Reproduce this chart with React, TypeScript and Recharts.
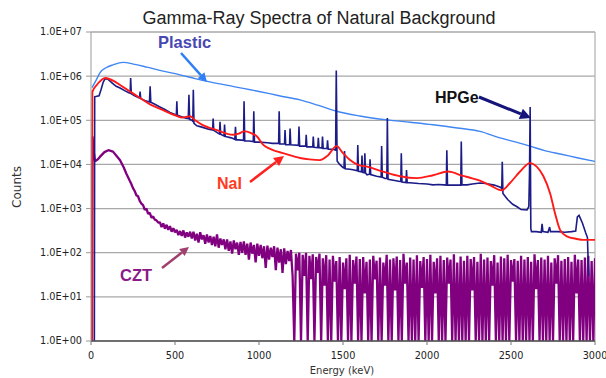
import React from 'react';
import { LineChart, Line, XAxis, YAxis, CartesianGrid, ReferenceLine } from 'recharts';

const title = 'Gamma-Ray Spectra of Natural Background';
const xTicks = [0, 500, 1000, 1500, 2000, 2500, 3000];
const yTicks = [1, 10, 100, 1000, 10000, 100000, 1000000, 10000000];
const yTickLabels = ['1.0E+00', '1.0E+01', '1.0E+02', '1.0E+03', '1.0E+04', '1.0E+05', '1.0E+06', '1.0E+07'];

// Plastic scintillator
const plasticEnergy = [6, 30, 54, 90, 131, 190, 260, 333, 430, 530, 620, 708, 850, 1000, 1120, 1244, 1350, 1462, 1600, 1762, 1900, 2036, 2180, 2315, 2435, 2530, 2613, 2700, 2800, 2900, 3000];
const plasticCounts = [5.5e5, 8.0e5, 1.2e6, 1.55e6, 1.8e6, 2.05e6, 1.85e6, 1.6e6, 1.3e6, 1.07e6, 8.8e5, 7.4e5, 5.8e5, 4.5e5, 3.6e5, 2.9e5, 2.2e5, 1.6e5, 1.25e5, 1.02e5, 9.0e4, 7.9e4, 6.7e4, 5.6e4, 4.0e4, 3.2e4, 2.6e4, 2.05e4, 1.7e4, 1.4e4, 1.17e4];

// NaI
const naiEnergy = [5, 8, 34, 64, 85, 113, 140, 173, 232, 292, 351, 429, 500, 545, 570, 590, 620, 660, 750, 845, 880, 911, 950, 988, 1024, 1060, 1100, 1143, 1244, 1300, 1363, 1410, 1462, 1500, 1542, 1590, 1643, 1738, 1839, 1940, 2036, 2125, 2214, 2256, 2315, 2380, 2444, 2494, 2554, 2613, 2653, 2693, 2733, 2762, 2792, 2832, 2892, 2929, 3000];
const naiCounts = [1, 4.4e5, 6.3e5, 8.3e5, 9.1e5, 8.5e5, 7.6e5, 6.3e5, 4.5e5, 3.2e5, 2.3e5, 1.7e5, 1.3e5, 1.15e5, 1.2e5, 1.23e5, 1.0e5, 8.0e4, 6.0e4, 4.7e4, 5.0e4, 5.6e4, 5.2e4, 4.3e4, 2.8e4, 2.3e4, 2.0e4, 1.8e4, 1.4e4, 1.3e4, 1.25e4, 1.6e4, 2.6e4, 1.8e4, 1.26e4, 9.8e3, 8.9e3, 6.9e3, 5.4e3, 4.9e3, 5.7e3, 6.9e3, 5.5e3, 5.0e3, 4.3e3, 3.3e3, 2.6e3, 3.8e3, 6.9e3, 1.07e4, 8.9e3, 5.4e3, 2.2e3, 780, 330, 235, 205, 195, 195];

// HPGe
const hpgeEnergy = [20, 22, 35, 48, 60, 72, 83, 100, 115, 130, 150, 173, 200, 225, 233, 236, 240, 260, 285, 289, 292, 296, 320, 348, 352, 356, 380, 410, 440, 470, 500, 508, 511, 514, 540, 565, 579, 583, 587, 600, 606, 609, 613, 630, 660, 700, 724, 727, 731, 760, 765, 768, 772, 792, 795, 799, 835, 856, 860, 864, 880, 908, 911, 915, 940, 966, 969, 973, 1000, 1050, 1080, 1117, 1120, 1124, 1152, 1155, 1159, 1182, 1185, 1189, 1235, 1238, 1242, 1278, 1281, 1285, 1320, 1323, 1327, 1350, 1353, 1357, 1375, 1378, 1382, 1405, 1408, 1412, 1440, 1456, 1460, 1465, 1480, 1500, 1506, 1509, 1513, 1540, 1560, 1585, 1588, 1592, 1610, 1613, 1617, 1627, 1630, 1634, 1643, 1658, 1661, 1665, 1700, 1727, 1730, 1734, 1750, 1761, 1764, 1768, 1800, 1839, 1844, 1847, 1851, 1875, 1878, 1882, 1950, 2000, 2036, 2070, 2100, 2115, 2118, 2122, 2160, 2201, 2204, 2208, 2238, 2270, 2315, 2350, 2400, 2440, 2445, 2448, 2452, 2480, 2510, 2536, 2560, 2595, 2606, 2610, 2614, 2618, 2622, 2650, 2680, 2685, 2690, 2720, 2730, 2735, 2780, 2820, 2860, 2885, 2895, 2905, 2925, 2945, 2955, 2962];
const hpgeCounts = [1, 3.4e5, 3.5e5, 3.6e5, 5.0e5, 7.2e5, 8.7e5, 8.5e5, 7.6e5, 6.8e5, 5.9e5, 5.4e5, 4.7e5, 4.2e5, 4.1e5, 9.1e5, 4.0e5, 3.6e5, 3.25e5, 3.2e5, 4.5e5, 3.1e5, 2.8e5, 2.6e5, 5.9e5, 2.55e5, 2.3e5, 2.0e5, 1.75e5, 1.5e5, 1.35e5, 1.3e5, 2.7e5, 1.3e5, 1.2e5, 1.12e5, 1.1e5, 3.8e5, 1.05e5, 1.0e5, 9.5e4, 4.9e5, 8.5e4, 7.5e4, 7.0e4, 6.3e4, 6.0e4, 1.1e5, 5.9e4, 5.0e4, 4.9e4, 9.3e4, 4.8e4, 4.4e4, 8.0e4, 4.3e4, 4.0e4, 3.7e4, 7.1e4, 3.6e4, 3.6e4, 3.5e4, 2.7e5, 3.4e4, 3.4e4, 3.3e4, 1.6e5, 3.2e4, 3.2e4, 3.1e4, 3.0e4, 3.0e4, 1.6e5, 2.9e4, 2.9e4, 6.0e4, 2.8e4, 2.8e4, 6.5e4, 2.8e4, 2.7e4, 7.2e4, 2.6e4, 2.6e4, 4.7e4, 2.5e4, 2.5e4, 4.3e4, 2.45e4, 2.4e4, 4.0e4, 2.4e4, 2.35e4, 4.3e4, 2.3e4, 2.3e4, 3.5e4, 2.2e4, 2.2e4, 2.1e4, 1.35e6, 1.2e4, 1.0e4, 8.5e3, 8.3e3, 2.0e4, 8.0e3, 7.8e3, 7.6e3, 7.2e3, 2.75e4, 7.0e3, 6.8e3, 1.6e4, 6.6e3, 6.5e3, 1.8e4, 6.4e3, 5.8e3, 6.0e3, 1.3e4, 5.9e3, 5.4e3, 5.2e3, 2.6e4, 5.1e3, 4.8e3, 4.8e3, 1.12e5, 4.6e3, 4.4e3, 4.1e3, 4.1e3, 1.8e4, 4.0e3, 3.9e3, 7.5e3, 3.9e3, 3.7e3, 3.6e3, 3.45e3, 3.5e3, 3.45e3, 3.4e3, 2.1e4, 3.4e3, 3.4e3, 3.4e3, 3.3e4, 3.45e3, 3.45e3, 3.6e3, 3.8e3, 3.7e3, 3.4e3, 3.0e3, 2.8e3, 1.15e4, 2.2e3, 1.6e3, 1.25e3, 1.1e3, 9.5e2, 9.3e2, 1.1e3, 6.0e3, 2.0e5, 3.5e2, 3.0e2, 3.0e2, 2.9e2, 4.5e2, 3.0e2, 2.9e2, 3.8e2, 3.0e2, 3.0e2, 2.9e2, 3.0e2, 3.1e2, 6.5e2, 7.0e2, 4.7e2, 2.8e2, 2.2e2, 30];

// CZT: low-energy part
const cztLowEnergy = [6, 9, 16, 24, 40, 54, 80, 103, 131, 150, 173, 195, 212, 230, 240];
const cztLowCounts = [1, 4.3e4, 2.0e4, 1.17e4, 1.3e4, 1.5e4, 1.9e4, 2.1e4, 1.95e4, 1.6e4, 1.25e4, 8.5e3, 6.0e3, 4.3e3, 3.6e3];
// CZT: 10 keV channels from 250 keV to 3000 keV
const cztChannelStart = 250;
const cztChannelWidth = 10;
const cztChannelCounts = [
  2900, 2500, 2000, 1900, 1500, 1300,
  1200, 940, 1000, 760, 800, 620, 660, 560, 540, 480,
  490, 380, 460, 350, 430, 330, 400, 300, 360, 290,
  330, 250, 310, 240, 320, 220, 290, 230, 300, 210,
  300, 190, 270, 170, 290, 200, 250, 160, 260, 170,
  240, 150, 230, 140, 260, 130, 210, 150, 200, 120,
  200, 110, 180, 95, 190, 120, 170, 90, 175, 100,
  180, 90, 160, 70, 170, 95, 150, 60, 160, 85,
  150, 75, 140, 45, 145, 70, 130, 80, 140, 40,
  130, 60, 120, 35, 125, 55, 110, 65, 115, 30,
  1, 95, 40, 100, 1, 90, 30, 100, 1, 85,
  25, 92, 1, 80, 35, 95, 1, 75, 18, 88,
  1, 70, 1, 85, 22, 65, 1, 80, 1, 60,
  15, 75, 1, 90, 1, 68, 20, 82, 1, 72,
  1, 80, 12, 62, 1, 70, 1, 85, 25, 66,
  1, 78, 1, 60, 18, 90, 1, 70, 1, 75,
  14, 82, 1, 68, 1, 95, 20, 60, 1, 78,
  1, 70, 1, 88, 1, 65, 16, 80, 1, 72,
  1, 90, 1, 62, 12, 75, 1, 85, 1, 68,
  1, 78, 20, 70, 1, 92, 1, 60, 1, 82,
  1, 66, 1, 85, 1, 72, 14, 80, 1, 62,
  1, 95, 1, 70, 1, 78, 1, 65, 18, 88,
  1, 60, 1, 82, 1, 75, 1, 90, 1, 68,
  22, 72, 1, 66, 1, 85, 1, 70, 1, 80,
  1, 62, 1, 92, 15, 68, 1, 78, 1, 70,
  1, 85, 1, 60, 1, 75, 20, 88, 1, 66,
  1, 72, 1, 80, 1, 62, 1, 90, 12, 70,
  1, 68, 1, 78, 1, 85, 1, 65, 1, 75,
];

const zip = (e: number[], c: number[]) => e.map((x, i) => ({ x, y: c[i] }));
const plasticData = zip(plasticEnergy, plasticCounts);
const naiData = zip(naiEnergy, naiCounts);
const hpgeData = zip(hpgeEnergy, hpgeCounts);
const cztData = [
  ...zip(cztLowEnergy, cztLowCounts),
  ...cztChannelCounts.map((y, i) => ({ x: cztChannelStart + i * cztChannelWidth, y })),
];

const tickFont = { fontFamily: 'DejaVu Sans', fontSize: 9.7, fill: '#222' };
const labelFont = 'Liberation Sans, Arial, sans-serif';

function Arrow({ x1, y1, x2, y2, color, w, head }: { x1: number; y1: number; x2: number; y2: number; color: string; w: number; head: number }) {
  const a = Math.atan2(y2 - y1, x2 - x1);
  const bx = x2 - head * Math.cos(a);
  const by = y2 - head * Math.sin(a);
  const px = -Math.sin(a) * head * 0.5;
  const py = Math.cos(a) * head * 0.5;
  return (
    <g>
      <line x1={x1} y1={y1} x2={bx} y2={by} stroke={color} strokeWidth={w} />
      <polygon points={`${x2},${y2} ${bx + px},${by + py} ${bx - px},${by - py}`} fill={color} />
    </g>
  );
}

export default function App() {
  return (
    <div style={{ position: 'absolute', left: 0, top: 0, width: 606, height: 378, background: '#fff' }}>
      <LineChart width={606} height={378} margin={{ top: 32, right: 11, bottom: 0, left: 0 }}>
        <CartesianGrid vertical={false} stroke="#a8a8a8" strokeWidth={1.3} />
        <XAxis
          dataKey="x"
          type="number"
          domain={[0, 3000]}
          ticks={xTicks}
          height={37}
          tick={tickFont}
          tickSize={4}
          tickMargin={7}
          axisLine={{ stroke: '#555', strokeWidth: 1.5 }}
          tickLine={{ stroke: '#777' }}
          allowDataOverflow
        />
        <YAxis
          scale="log"
          domain={[1, 10000000]}
          ticks={yTicks}
          width={91}
          tick={tickFont}
          tickSize={5}
          tickMargin={4}
          tickFormatter={(v: number) => yTickLabels[yTicks.indexOf(v)] ?? ''}
          axisLine={{ stroke: '#999' }}
          tickLine={{ stroke: '#999' }}
          allowDataOverflow
        />
        <ReferenceLine x={3000} stroke="#b5b5b5" strokeWidth={1.3} />
        <Line data={plasticData} dataKey="y" type="monotone" stroke="#3f86f2" strokeWidth={1.4} dot={false} isAnimationActive={false} />
        <Line data={cztData} dataKey="y" type="linear" stroke="#800080" strokeWidth={2.3} strokeLinejoin="bevel" dot={false} isAnimationActive={false} />
        <Line data={hpgeData} dataKey="y" type="linear" stroke="#1c1c88" strokeWidth={1.6} dot={false} isAnimationActive={false} />
        <Line data={naiData} dataKey="y" type="monotone" stroke="#ff1a1a" strokeWidth={1.9} dot={false} isAnimationActive={false} />
      </LineChart>
      <svg width={606} height={378} style={{ position: 'absolute', left: 0, top: 0, pointerEvents: 'none' }}>
        <text x={319} y={24} textAnchor="middle" fontFamily={labelFont} fontSize={18} fill="#222">{title}</text>
        <text x={342} y={374} textAnchor="middle" fontFamily="DejaVu Sans" fontSize={10} fill="#333">Energy (keV)</text>
        <text x={0} y={0} transform="translate(21,187) rotate(-90)" textAnchor="middle" fontFamily="DejaVu Sans" fontSize={12} fill="#333">Counts</text>

        <text x={158} y={48} fontFamily={labelFont} fontWeight="bold" fontSize={16.5} fill="#4848b2">Plastic</text>
        <Arrow x1={181} y1={53} x2={207} y2={82} color="#2f7ff5" w={2.5} head={9} />

        <text x={435} y={103} fontFamily={labelFont} fontWeight="bold" fontSize={16} fill="#111">HPGe</text>
        <Arrow x1={479} y1={97} x2={531} y2={118} color="#14147a" w={3} head={11} />

        <text x={217} y={189} fontFamily={labelFont} fontWeight="bold" fontSize={16} fill="#ff3b1f">NaI</text>
        <Arrow x1={250} y1={182} x2={284} y2={156} color="#ff2020" w={2.5} head={10} />

        <text x={120} y={281} fontFamily={labelFont} fontWeight="bold" fontSize={16.5} fill="#8a1a8a">CZT</text>
        <Arrow x1={162} y1={268} x2={189} y2={247} color="#a0406e" w={2.5} head={9} />
      </svg>
    </div>
  );
}
